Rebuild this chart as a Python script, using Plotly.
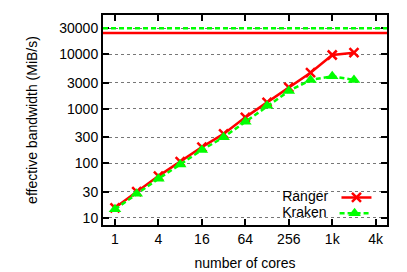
import plotly.graph_objects as go

cores = [1, 2, 4, 8, 16, 32, 64, 128, 256, 512, 1024, 2048]
ranger = [15.2, 30, 58, 107, 198, 345, 695, 1310, 2470, 4590, 9700, 10700]
kraken = [14.3, 27.5, 52, 95, 175, 300, 575, 1135, 2110, 3380, 3950, 3380]
ranger_peak = 24600
kraken_peak = 30000

x_tickvals = [1, 4, 16, 64, 256, 1024, 4096]
x_ticktext = ["1", "4", "16", "64", "256", "1k", "4k"]
y_tickvals = [10, 30, 100, 300, 1000, 3000, 10000, 30000]
y_ticktext = ["10", "30", "100", "300", "1000", "3000", "10000", "30000"]

RED = "#ff0000"
GREEN = "#00ff00"
FONT = "Liberation Sans, Arial, sans-serif"

fig = go.Figure()

fig.add_hline(y=kraken_peak, line=dict(color=GREEN, width=2.5, dash="5px,3px"), layer="above")
fig.add_hline(y=ranger_peak, line=dict(color=RED, width=2.5), layer="above")

fig.add_trace(go.Scatter(
    x=cores, y=ranger, name="Ranger", mode="lines+markers",
    line=dict(color=RED, width=2.5),
    marker=dict(symbol="x-thin", size=9, line=dict(color=RED, width=2.5), color=RED),
    legend="legend",
))
fig.add_trace(go.Scatter(
    x=cores, y=kraken, name="Kraken", mode="lines+markers",
    line=dict(color=GREEN, width=2.5, dash="5px,3px"),
    marker=dict(symbol="triangle-up", size=11, color=GREEN),
    legend="legend2",
))

axis_common = dict(
    showline=True, linewidth=2, linecolor="black", mirror="ticks",
    ticks="inside", ticklen=6, tickwidth=2, tickcolor="black",
    tickfont=dict(family=FONT, size=14, color="black"),
    zeroline=False,
)

fig.update_xaxes(
    type="log", range=[-0.166, 3.769],
    tickvals=x_tickvals, ticktext=x_ticktext, showgrid=False,
    title=dict(text="number of cores", font=dict(family=FONT, size=14, color="black"), standoff=12),
    **axis_common,
)
fig.update_yaxes(
    type="log", range=[0.866, 4.721],
    tickvals=y_tickvals, ticktext=y_ticktext,
    showgrid=True, gridcolor="#777777", griddash="dot", gridwidth=1,
    title=dict(text="effective bandwidth (MiB/s)", font=dict(family=FONT, size=14, color="black"), standoff=18),
    **axis_common,
)

legend_common = dict(
    bgcolor="rgba(0,0,0,0)", borderwidth=0,
    font=dict(family=FONT, size=1, color="rgba(0,0,0,0)"),
    xanchor="left", yanchor="middle", x=0.624,
)
# the page body keeps an 8px default margin, so the figure is offset by (8, 8)
fig.update_layout(
    width=407, height=272,
    margin=dict(l=95, r=28, t=7, b=55, autoexpand=False),
    paper_bgcolor="white", plot_bgcolor="white",
    font=dict(family=FONT, size=14, color="black"),
    showlegend=True,
    legend=dict(y=0.131, title=dict(text="Ranger", side="left", font=dict(family=FONT, size=14, color="black")), **legend_common),
    legend2=dict(y=0.056, title=dict(text="Kraken", side="left", font=dict(family=FONT, size=14, color="black")), **legend_common),
)

fig.write_html("out.html")
